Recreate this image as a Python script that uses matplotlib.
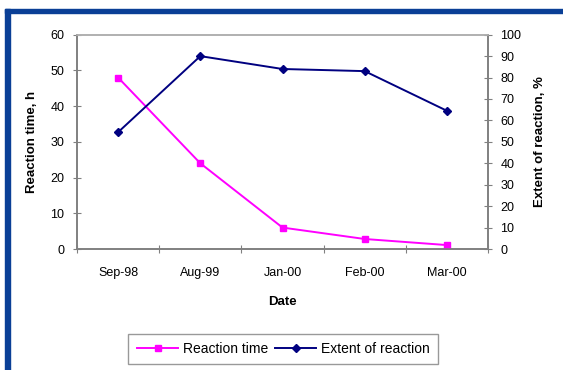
import matplotlib

matplotlib.use("Agg")
import matplotlib.pyplot as plt
from matplotlib.patches import Rectangle

DATES = ["Sep-98", "Aug-99", "Jan-00", "Feb-00", "Mar-00"]
REACTION_TIME = [48, 24, 6, 2.8, 1.1]
EXTENT = [54.5, 90, 84, 83, 64.5]

PINK = "#FF00FF"
NAVY = "#000080"
FRAME = "#0A3F96"
AXIS_GREY = "#808080"

plt.rcParams["font.family"] = ["Liberation Sans", "DejaVu Sans"]
plt.rcParams["font.size"] = 9

fig = plt.figure(figsize=(5.63, 3.70), dpi=100)

# blue frame bands (top and left)
fig.patches.append(Rectangle((5 / 563, 1 - 13 / 370), 1, 4.5 / 370,
                             transform=fig.transFigure, color=FRAME, zorder=0))
fig.patches.append(Rectangle((5 / 563, 0), 5 / 563, 1 - 9 / 370,
                             transform=fig.transFigure, color=FRAME, zorder=0))

ax = fig.add_axes([77 / 563, 1 - 249 / 370, (488 - 77) / 563, (249 - 34.7) / 370])
ax2 = ax.twinx()

x = list(range(len(DATES)))
(l1,) = ax.plot(x, REACTION_TIME, color=PINK, marker="s", markersize=5,
                linewidth=1.4, clip_on=False, label="Reaction time", zorder=3)
(l2,) = ax2.plot(x, EXTENT, color=NAVY, marker="D", markersize=4.5,
                 linewidth=1.4, clip_on=False, label="Extent of reaction", zorder=3)

ax.set_xlim(-0.5, len(DATES) - 0.5)
ax.set_ylim(0, 60)
ax.set_yticks(range(0, 61, 10))
ax2.set_ylim(0, 100)
ax2.set_yticks(range(0, 101, 10))

# category boundaries get tick marks, labels sit at centres
ax.set_xticks([i - 0.5 for i in range(len(DATES) + 1)])
ax.set_xticklabels([])
ax.set_xticks(x, minor=True)
ax.set_xticklabels(DATES, minor=True)
ax.tick_params(axis="x", which="minor", length=0, pad=13)
ax.tick_params(axis="x", which="major", direction="inout", length=6,
               color=AXIS_GREY)
ax.tick_params(axis="y", direction="inout", length=6, color=AXIS_GREY, pad=6)
ax2.tick_params(axis="y", direction="inout", length=6, color=AXIS_GREY, pad=6)

for a in (ax, ax2):
    for side in ("left", "right", "bottom"):
        a.spines[side].set_color(AXIS_GREY)
        a.spines[side].set_linewidth(1.2)
    a.spines["top"].set_color("#B0B0B0")
    a.spines["top"].set_linewidth(1.2)

ax.set_xlabel("Date", fontweight="bold", fontsize=9.5, labelpad=12)
ax.set_ylabel("Reaction time, h", fontweight="bold", fontsize=9.5, labelpad=9)
ax2.set_ylabel("Extent of reaction, %", fontweight="bold", fontsize=9.5,
               labelpad=9)

fig.legend(handles=[l1, l2], loc="center", bbox_to_anchor=(283 / 563, 1 - 349 / 370),
           ncol=2, frameon=True, fancybox=False, edgecolor="#808080",
           handlelength=3, handletextpad=0.3, columnspacing=0.5,
           borderpad=0.6, fontsize=10)

fig.savefig("out.png", dpi=100)
